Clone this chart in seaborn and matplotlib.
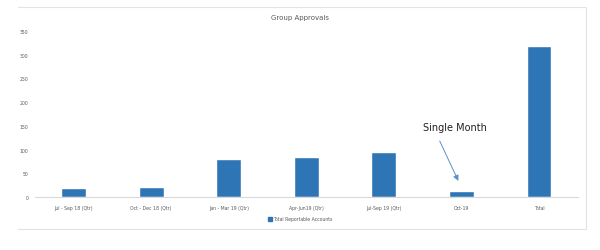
import matplotlib
matplotlib.use("Agg")
import matplotlib.pyplot as plt
from matplotlib.lines import Line2D
import seaborn as sns
import pandas as pd

categories = ["Jul - Sep 18 (Qtr)", "Oct - Dec 18 (Qtr)", "Jan - Mar 19 (Qtr)",
              "Apr-Jun19 (Qtr)", "Jul-Sep 19 (Qtr)", "Oct-19", "Total"]
values = [19, 21, 80, 84, 95, 12, 318]
series_name = "Total Reportable Accounts"
yticks = [0, 50, 100, 150, 200, 250, 300, 350]

df = pd.DataFrame({"cat": categories, "val": values, "series": series_name})

sns.set_style("white")
fig = plt.figure(figsize=(6, 2.51), dpi=100)
ax = fig.add_axes([0.058, 0.211, 0.905, 0.662])

blue = "#2E75B6"
sns.barplot(data=df, x="cat", y="val", hue="series", palette=[blue],
            width=0.32, saturation=1, ax=ax, legend=False)

ax.set_ylim(0, 350)
ax.set_yticks(yticks)
ax.set_xlim(-0.5, len(categories) - 0.5)
ax.set_xlabel("")
ax.set_ylabel("")
for s in ["top", "right", "left"]:
    ax.spines[s].set_visible(False)
ax.spines["bottom"].set_color("#D9D9D9")
ax.spines["bottom"].set_linewidth(0.8)
ax.tick_params(axis="both", length=0, labelsize=3.3, colors="#595959")
ax.tick_params(axis="x", pad=6)
ax.tick_params(axis="y", pad=4.5)

fig.text(0.5, 0.928, "Group Approvals", ha="center", va="center",
         fontsize=5, color="#595959")

# legend
handle = Line2D([], [], marker="s", color=blue, linestyle="", markersize=2.5)
fig.legend([handle], [series_name], loc="center", bbox_to_anchor=(0.5, 0.125),
           frameon=False, fontsize=3.3, labelcolor="#595959",
           handletextpad=0.2, handlelength=0.8)

# annotation
ax.text(4.91, 148, "Single Month", ha="center", va="center",
        fontsize=7, color="#222222")
ax.annotate("", xy=(4.96, 34), xytext=(4.72, 118),
            xycoords="data", textcoords="data",
            arrowprops=dict(arrowstyle="-|>", color="#5B8FC9", lw=0.7,
                            shrinkA=0, shrinkB=0, mutation_scale=8))

# outer frame
fc = "#E3E3E3"
fig.add_artist(Line2D([18/600, 586/600], [1-8/251, 1-8/251], transform=fig.transFigure, color=fc, lw=0.8))
fig.add_artist(Line2D([18/600, 586/600], [1-230/251, 1-230/251], transform=fig.transFigure, color=fc, lw=0.8))
fig.add_artist(Line2D([586/600, 586/600], [1-8/251, 1-230/251], transform=fig.transFigure, color=fc, lw=0.8))

fig.savefig("out.png", dpi=100)
